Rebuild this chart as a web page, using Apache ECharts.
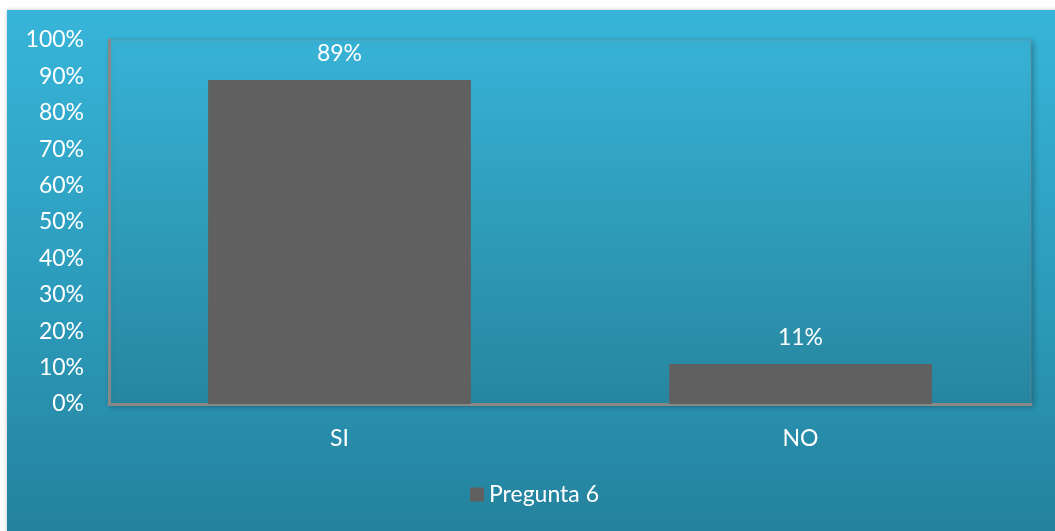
<!DOCTYPE html>
<html>
<head>
<meta charset="utf-8">
<style>
html,body{margin:0;padding:0;background:#fff;}
#c{width:1055px;height:531px;}
</style>
<script src="https://cdn.jsdelivr.net/npm/echarts@6/dist/echarts.min.js"></script>
</head>
<body>
<div id="c"></div>
<script>
const categories = ['SI', 'NO'];
const seriesName = 'Pregunta 6';
const values = [0.89, 0.11];
const yTicks = ['0%','10%','20%','30%','40%','50%','60%','70%','80%','90%','100%'];

const chart = echarts.init(document.getElementById('c'), null, {renderer: 'canvas'});
const font = 'Lato, "Open Sans", sans-serif';
const fs = 23;
chart.setOption({
  animation: false,
  graphic: [{
    type: 'rect',
    z: -10,
    shape: {x: 7, y: 10, width: 1060, height: 530},
    style: {
      fill: new echarts.graphic.LinearGradient(0, 0, 0, 1, [
        {offset: 0, color: '#37b5d9'},
        {offset: 0.6, color: '#2b98b7'},
        {offset: 1, color: '#24819c'}
      ]),
      shadowBlur: 4, shadowColor: 'rgba(0,0,0,0.25)'
    }
  }],
  grid: {
    left: 109, right: 24, top: 40, bottom: 127,
    show: true,
    backgroundColor: new echarts.graphic.LinearGradient(0, 0, 0, 1, [
      {offset: 0, color: '#37b2d6'},
      {offset: 1, color: '#27869f'}
    ]),
    borderColor: 'rgba(120,150,160,0.5)',
    borderWidth: 1,
    shadowBlur: 6, shadowColor: 'rgba(0,0,0,0.3)', shadowOffsetX: 2, shadowOffsetY: 2
  },
  legend: {
    top: 478, left: 465,
    itemWidth: 14, itemHeight: 14, itemGap: 7,
    icon: 'rect',
    textStyle: {color: '#fff', fontSize: fs, fontFamily: font},
    data: [seriesName]
  },
  xAxis: {
    type: 'category',
    data: categories,
    axisLine: {show: true, lineStyle: {color: '#888', width: 3}},
    axisTick: {show: false},
    axisLabel: {color: '#fff', fontSize: fs, fontFamily: font, margin: 23}
  },
  yAxis: {
    type: 'value',
    min: 0, max: 1, interval: 0.1,
    axisLine: {show: true, lineStyle: {color: '#888', width: 3}},
    axisTick: {show: false},
    splitLine: {show: false},
    axisLabel: {
      color: '#fff', fontSize: fs, fontFamily: font, margin: 25,
      formatter: function (v) { return yTicks[Math.round(v * 10)]; }
    }
  },
  series: [{
    name: seriesName,
    type: 'bar',
    data: values,
    barWidth: '57%',
    itemStyle: {color: '#606060'},
    label: {
      show: true, position: 'top', distance: 15,
      color: '#fff', fontSize: fs, fontFamily: font,
      formatter: function (p) { return Math.round(p.value * 100) + '%'; }
    }
  }]
});
</script>
</body>
</html>
